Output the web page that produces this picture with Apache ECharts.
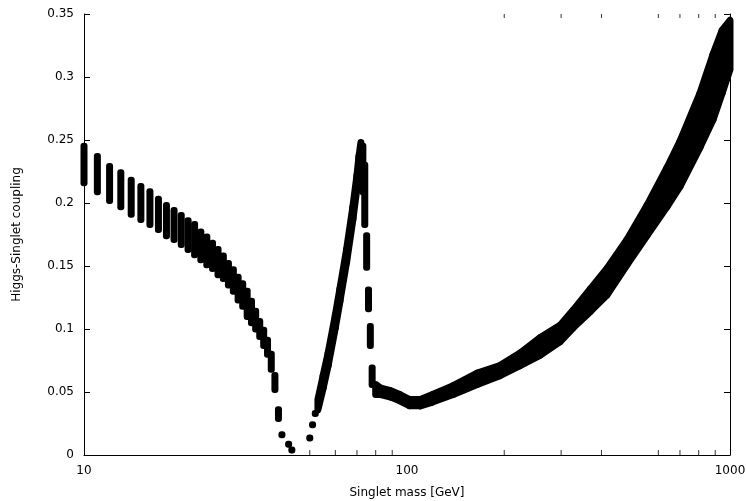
<!DOCTYPE html>
<html lang="en">
<head>
<meta charset="UTF-8">
<title>Higgs-Singlet coupling</title>
<script src="https://cdn.jsdelivr.net/npm/echarts@6/dist/echarts.min.js"></script>
<style>
  html, body { margin: 0; padding: 0; background: #fff; }
  #main { width: 746px; height: 501px; }
</style>
</head>
<body>
<div id="main"></div>
<script type="text/javascript">
// single mass columns: mass, lowest and highest coupling
var colMass = [10, 11, 12, 13, 14, 15, 16, 17, 18, 19, 20, 21, 22, 23, 24, 25, 26, 27, 28, 29,
               30, 31, 32, 33, 34, 35, 36, 37, 38, 39, 40, 41, 43, 44,
               50, 51, 52, 73, 74, 75, 76, 77, 78];
var colLow  = [0.216, 0.209, 0.202, 0.197, 0.191, 0.187, 0.183, 0.179, 0.174, 0.171, 0.167, 0.163, 0.159, 0.155, 0.151, 0.148, 0.143, 0.140, 0.135, 0.130,
               0.123, 0.118, 0.110, 0.105, 0.100, 0.094, 0.087, 0.080, 0.068, 0.052, 0.029, 0.016, 0.0085, 0.004,
               0.0135, 0.024, 0.033, 0.209, 0.183, 0.149, 0.116, 0.087, 0.056];
var colHigh = [0.245, 0.237, 0.229, 0.224, 0.218, 0.213, 0.209, 0.203, 0.198, 0.194, 0.190, 0.186, 0.183, 0.177, 0.173, 0.168, 0.163, 0.158, 0.152, 0.147,
               0.141, 0.136, 0.130, 0.122, 0.114, 0.106, 0.099, 0.091, 0.080, 0.063, 0.036, 0.016, 0.0085, 0.004,
               0.0135, 0.024, 0.033, 0.245, 0.230, 0.174, 0.131, 0.102, 0.069];

// rising branch towards the peak near 72 GeV
var riseMass = [53, 55, 57, 60, 62, 65, 68, 70, 71, 72];
var riseLow  = [0.036, 0.053, 0.071, 0.101, 0.122, 0.153, 0.187, 0.212, 0.226, 0.241];
var riseHigh = [0.044, 0.063, 0.081, 0.111, 0.132, 0.163, 0.197, 0.222, 0.237, 0.248];

// continuous band above 80 GeV
var bandMass = [80, 83, 89, 95, 102, 110, 120, 139, 165, 194, 224, 258, 298, 327, 370, 416, 480, 553, 638, 700, 807, 886, 945, 1000];
var bandLow  = [0.048, 0.048, 0.046, 0.043, 0.039, 0.039, 0.042, 0.048, 0.056, 0.063, 0.071, 0.079, 0.090, 0.101, 0.114, 0.127, 0.151, 0.174, 0.197, 0.213, 0.244, 0.266, 0.287, 0.306];
var bandHigh = [0.056, 0.053, 0.051, 0.048, 0.044, 0.044, 0.048, 0.055, 0.065, 0.071, 0.081, 0.093, 0.103, 0.115, 0.132, 0.148, 0.171, 0.198, 0.228, 0.249, 0.287, 0.318, 0.337, 0.345];

var xTickLabels = { 10: '10', 100: '100', 1000: '1000' };
var yTickLabels = ['0', '0.05', '0.1', '0.15', '0.2', '0.25', '0.3', '0.35'];
var bottomMinorTicks = [50, 60, 70, 80, 90, 200, 300, 400, 600, 700, 800, 900];
var topMinorTicks = [200, 300, 400, 600, 700, 800, 900];

var colData = [];
for (var i = 0; i < colMass.length; i++) {
    colData.push([colMass[i], colLow[i], colHigh[i]]);
}
function segments(mass, low, high) {
    var out = [];
    for (var j = 0; j < mass.length - 1; j++) {
        out.push([mass[j], low[j], high[j], mass[j + 1], low[j + 1], high[j + 1]]);
    }
    return out;
}

function renderBand(params, api) {
    var a = api.coord([api.value(0), api.value(2)]);
    var b = api.coord([api.value(3), api.value(5)]);
    var c = api.coord([api.value(3), api.value(4)]);
    var d = api.coord([api.value(0), api.value(1)]);
    return {
        type: 'polygon',
        shape: { points: [a, b, c, d] },
        style: { fill: '#000', stroke: '#000', lineWidth: 7, lineJoin: 'round' }
    };
}

var font = '"DejaVu Sans", Verdana, sans-serif';
var myChart = echarts.init(document.getElementById('main'), null, { renderer: 'canvas' });

var option = {
    backgroundColor: '#fff',
    animation: false,
    grid: { left: 84, right: 16, top: 14, bottom: 46, containLabel: false, outerBoundsMode: 'none' },
    xAxis: [{
        type: 'log',
        logBase: 10,
        min: 10,
        max: 1000,
        name: 'Singlet mass [GeV]',
        nameLocation: 'middle',
        nameGap: 32,
        nameTextStyle: { color: '#000', fontSize: 12, fontFamily: font },
        axisLine: { show: true, onZero: false, lineStyle: { color: '#000', width: 1 } },
        axisTick: { show: false },
        minorTick: { show: false },
        axisLabel: {
            color: '#000', fontSize: 12, fontFamily: font, margin: 10,
            formatter: function (v) { return xTickLabels[Math.round(v)] || ''; }
        },
        splitLine: { show: false },
        minorSplitLine: { show: false }
    }],
    yAxis: [{
        type: 'value',
        min: 0,
        max: 0.35,
        interval: 0.05,
        name: 'Higgs-Singlet coupling',
        nameLocation: 'middle',
        nameGap: 61,
        nameTextStyle: { color: '#000', fontSize: 12, fontFamily: font },
        axisLine: { show: true, onZero: false, lineStyle: { color: '#000', width: 1 } },
        axisTick: { show: true, inside: true, length: 6, lineStyle: { color: '#000' } },
        axisLabel: {
            color: '#000', fontSize: 12, fontFamily: font, margin: 10,
            formatter: function (v) { return yTickLabels[Math.round(v / 0.05)]; }
        },
        splitLine: { show: false }
    }, {
        type: 'value',
        position: 'right',
        min: 0,
        max: 0.35,
        interval: 0.05,
        axisLine: { show: true, onZero: false, lineStyle: { color: '#000', width: 1 } },
        axisTick: { show: true, inside: true, length: 6, lineStyle: { color: '#000' } },
        axisLabel: { show: false },
        splitLine: { show: false }
    }],
    series: [{
        type: 'custom',
        silent: true,
        data: segments(bandMass, bandLow, bandHigh),
        encode: { x: [0, 3], y: [1, 2, 4, 5] },
        renderItem: renderBand
    }, {
        type: 'custom',
        silent: true,
        data: segments(riseMass, riseLow, riseHigh),
        encode: { x: [0, 3], y: [1, 2, 4, 5] },
        renderItem: renderBand
    }, {
        // one rounded column per scanned mass
        type: 'custom',
        silent: true,
        data: colData,
        encode: { x: 0, y: [1, 2] },
        renderItem: function (params, api) {
            var top = api.coord([api.value(0), api.value(2)]);
            var bot = api.coord([api.value(0), api.value(1)]);
            return {
                type: 'rect',
                shape: { x: top[0] - 3.5, y: top[1] - 3.5, width: 7, height: bot[1] - top[1] + 7, r: 3 },
                style: { fill: '#000' }
            };
        }
    }, {
        // minor ticks on the bottom border
        type: 'scatter',
        silent: true,
        symbol: 'rect',
        symbolSize: [1, 5],
        symbolOffset: [0, -2.5],
        itemStyle: { color: '#000' },
        data: bottomMinorTicks.map(function (m) { return [m, 0]; })
    }, {
        // minor ticks on the top border
        type: 'scatter',
        silent: true,
        symbol: 'rect',
        symbolSize: [1, 4],
        symbolOffset: [0, 2],
        itemStyle: { color: '#000' },
        data: topMinorTicks.map(function (m) { return [m, 0.35]; })
    }]
};

myChart.setOption(option);
</script>
</body>
</html>
